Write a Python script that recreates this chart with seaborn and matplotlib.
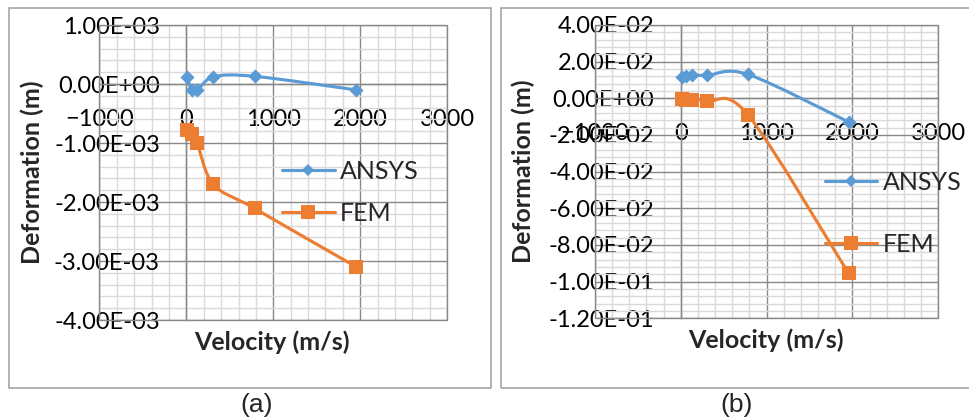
import numpy as np
import pandas as pd
import seaborn as sns
import matplotlib
matplotlib.use("Agg")
import matplotlib.pyplot as plt
from matplotlib.path import Path
from matplotlib.patches import PathPatch, Rectangle
from matplotlib.lines import Line2D
from matplotlib.ticker import MultipleLocator, FuncFormatter

# ---------------- data ----------------
velocity = [10, 60, 125, 310, 785, 1955]
ansys_a = [1.2e-4, -1.0e-4, -1.1e-4, 1.2e-4, 1.3e-4, -1.0e-4]
fem_a = [-7.8e-4, -8.4e-4, -1.0e-3, -1.70e-3, -2.11e-3, -3.10e-3]
ansys_b = [1.18e-2, 1.22e-2, 1.25e-2, 1.26e-2, 1.30e-2, -1.29e-2]
fem_b = [-6.0e-4, -9.0e-4, -1.0e-3, -1.6e-3, -9.2e-3, -9.55e-2]
series_names = ["ANSYS", "FEM"]
x_ticks = [-1000, 0, 1000, 2000, 3000]
panel_labels = ["(a)", "(b)"]

BLUE = "#5B9BD5"
ORANGE = "#ED7D31"
MAJOR = "#898989"
MINOR = "#D9D9D9"

sns.set_theme(style="white")
plt.rcParams["font.family"] = ["Lato", "DejaVu Sans"]

W, H = 970, 419
fig = plt.figure(figsize=(W / 100, H / 100), dpi=100)


def px_axes(l, t, r, b):
    return fig.add_axes([l / W, 1 - b / H, (r - l) / W, (b - t) / H])


def smooth_path(x, y):
    # Excel-style smoothed line: Catmull-Rom segments as cubic Bezier curves
    P = np.column_stack([x, y]).astype(float)
    n = len(P)
    verts = [P[0]]
    codes = [Path.MOVETO]
    for i in range(n - 1):
        p0 = P[i - 1] if i > 0 else P[i]
        p1 = P[i]
        p2 = P[i + 1]
        p3 = P[i + 2] if i + 2 < n else P[i + 1]
        c1 = p1 + (p2 - p0) / 6.0
        c2 = p2 - (p3 - p1) / 6.0
        verts += [c1, c2, p2]
        codes += [Path.CURVE4] * 3
    return Path(verts, codes)


def sci(v, p):
    if abs(v) < 1e-12:
        v = 0.0
    return f"{v:.2E}"


def draw_panel(ax, ansys, fem, ylim, ymaj, ymin_, leg_xy, leg_space, xlab_xy, ylab_xy):
    ax.set_xlim(-1000, 3000)
    ax.set_ylim(*ylim)
    ax.xaxis.set_major_locator(MultipleLocator(1000))
    ax.xaxis.set_minor_locator(MultipleLocator(200))
    ax.yaxis.set_major_locator(MultipleLocator(ymaj))
    ax.yaxis.set_minor_locator(MultipleLocator(ymin_))
    ax.grid(which="minor", color=MINOR, lw=1.0, zorder=0)
    ax.grid(which="major", color=MAJOR, lw=1.0, zorder=0.5)
    ax.set_axisbelow(True)
    for s in ["top", "right"]:
        ax.spines[s].set_visible(False)
    ax.spines["left"].set_position(("data", 0))
    ax.spines["bottom"].set_position(("data", 0))
    ax.spines["left"].set_color(MAJOR)
    ax.spines["bottom"].set_color(MAJOR)
    ax.spines["left"].set_linewidth(1.0)
    ax.spines["bottom"].set_linewidth(1.0)
    ax.add_patch(Rectangle((0, 0), 1, 1, transform=ax.transAxes, fill=False,
                           ec=MAJOR, lw=1.0, clip_on=False, zorder=1))
    ax.yaxis.set_major_formatter(FuncFormatter(sci))
    ax.set_xticks(x_ticks)
    ax.tick_params(axis="both", which="both", length=0, labelsize=17, colors="black")
    ax.tick_params(axis="y", pad=19)
    ax.tick_params(axis="x", pad=18)

    df = pd.DataFrame({"Velocity": velocity * 2,
                       "Deformation": list(ansys) + list(fem),
                       "Series": [series_names[0]] * len(velocity) + [series_names[1]] * len(velocity)})
    for name, col, mk, size in [(series_names[0], BLUE, "D", 52), (series_names[1], ORANGE, "s", 112)]:
        d = df[df["Series"] == name]
        ax.add_patch(PathPatch(smooth_path(d["Velocity"], d["Deformation"]), fill=False,
                               ec=col, lw=2.25, zorder=3, capstyle="round", joinstyle="round"))
        sns.scatterplot(data=d, x="Velocity", y="Deformation", ax=ax, marker=mk, s=size,
                        color=col, linewidth=0, zorder=4, legend=False)

    ax.set_xlabel("Velocity (m/s)", fontsize=18, fontweight="bold")
    ax.set_ylabel("Deformation (m)", fontsize=18, fontweight="bold")
    ax.xaxis.label.set_va("center")
    ax.yaxis.label.set_va("center")
    ax.xaxis.set_label_coords(*xlab_xy)
    ax.yaxis.set_label_coords(*ylab_xy)

    handles = [Line2D([], [], color=BLUE, lw=2.25, marker="D", ms=6.5, mew=0),
               Line2D([], [], color=ORANGE, lw=2.25, marker="s", ms=10, mew=0)]
    ax.legend(handles, series_names, loc="center left",
              bbox_to_anchor=(leg_xy[0] / W, 1 - leg_xy[1] / H), bbox_transform=fig.transFigure,
              frameon=False, fontsize=18, borderpad=0, borderaxespad=0, handlelength=2.1,
              handletextpad=0.2, labelspacing=leg_space)


# panel (a)
axa = px_axes(99.5, 25, 447, 320)
draw_panel(axa, ansys_a, fem_a, (-4e-3, 1e-3), 1e-3, 2e-4,
           (282, 192.5), 0.75, (0.497, (320 - 342) / 295), ((32 - 99.5) / 347.5, 0.5))

# panel (b)
axb = px_axes(595, 25, 938.3, 318.3)
draw_panel(axb, ansys_b, fem_b, (-0.12, 0.04), 0.02, 0.004,
           (825, 213.5), 1.55, (0.498, (318.3 - 340) / 293.3), ((523 - 595) / 343.3, 0.5))

# panel frames
fig.patches.append(Rectangle((9 / W, 1 - 388 / H), (491.5 - 9) / W, (388 - 8) / H,
                             transform=fig.transFigure, fill=False, ec="#A6A6A6", lw=1.2))
fig.patches.append(Rectangle((501 / W, 1 - 388 / H), (975 - 501) / W, (388 - 8) / H,
                             transform=fig.transFigure, fill=False, ec="#A6A6A6", lw=1.2))

for lbl, xc in zip(panel_labels, [257, 737]):
    fig.text(xc / W, 1 - 405 / H, lbl, ha="center", va="center", fontsize=19,
             family=["Liberation Sans", "DejaVu Sans"])

fig.savefig("out.png", dpi=100)
